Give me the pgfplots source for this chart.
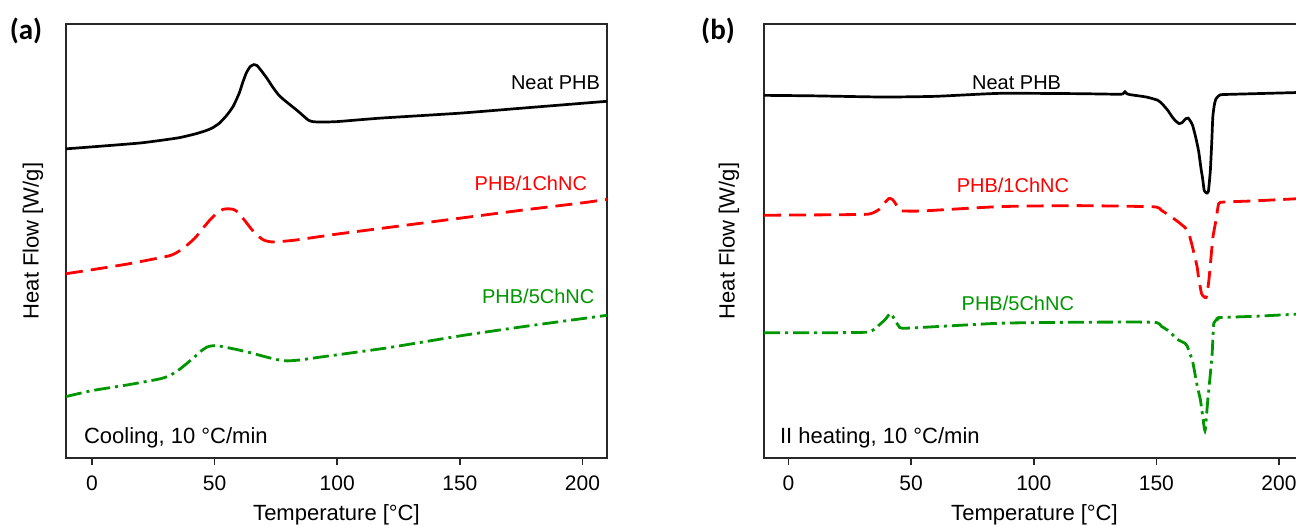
\documentclass[border=0pt]{standalone}
\usepackage{pgfplots}
\pgfplotsset{compat=1.18}
\usepackage{fontspec}
\setmainfont{Liberation Sans}
\newfontfamily\panelfont{Carlito}
\definecolor{dscred}{RGB}{255,0,0}
\definecolor{dscgreen}{RGB}{0,150,0}
\definecolor{frame}{RGB}{40,40,40}

\tikzset{curvelabel/.style={inner sep=0pt, font=\fontsize{10}{12}\selectfont}}
\pgfplotsset{
  dsc/.style={
    scale only axis,
    width=270.5pt, height=217pt,
    ymin=0, ymax=438,
    xtick={0,50,100,150,200},
    ytick=\empty,
    xtick pos=bottom,
    tick align=outside,
    major tick length=3.5pt,
    every tick/.style={frame, line width=0.8pt},
    axis line style={frame, line width=0.9pt},
    /pgf/number format/assume math mode=true,
    ticklabel style={font=\fontsize{10.5}{12}\selectfont},
    xticklabel style={yshift=-2pt},
    xlabel={Temperature [°C]},
    ylabel={Heat Flow [W/g]},
    label style={font=\fontsize{11}{13}\selectfont},
    xlabel style={at={(axis description cs:0.5,-0.131)}, anchor=center},
    clip=false,
  },
  neat/.style={black, line width=1.35pt, smooth, tension=0.3},
  one/.style={dscred, line width=1.4pt, dash pattern=on 8.5pt off 4pt, smooth, tension=0.3},
  five/.style={dscgreen, line width=1.4pt, dash pattern=on 8pt off 2.5pt on 1.5pt off 2.5pt, smooth, tension=0.3},
}

\begin{document}
\begin{tikzpicture}
\path (0,0) rectangle (648pt,262.5pt);

% (a) cooling
\begin{axis}[dsc, at={(33pt,33.5pt)}, anchor=south west,
  xmin=-10.6, xmax=210,
  ylabel style={at={(axis description cs:-0.061,0.5)}, anchor=center}]
\addplot[neat] coordinates {
(-10.6,312) (0,314) (20,318) (35,323) (42,327) (46,330) (49,333) (52,338)
(55,346) (57.6,355) (60,368) (61.6,380) (63,389) (64.5,395) (66,397)
(67.3,396) (69,391) (71.4,383) (73.5,375) (75.9,367) (78,362) (80,358)
(84,350) (88.2,341) (90,339.5) (93,339) (100,339.5) (117.6,343) (150,348)
(175,353) (200,358) (210,360)};
\addplot[one] coordinates {
(-10.6,186) (0,190) (15,196) (31.4,204) (35,208) (38.4,214) (42,222)
(45.3,232) (48,240) (51.3,248) (53.5,251) (55.5,251.5) (57.5,251) (59,249)
(60.5,245) (62.5,239) (65,231) (67.7,224) (70,220) (72,218.5) (74.6,218)
(83.2,220) (100,226) (125,234) (150,242) (175,250) (200,257.5) (210,261)};
\addplot[five] coordinates {
(-10.6,62) (0,68) (15,74) (28,80) (31.5,83) (34.9,88) (38,94) (41.8,102)
(44.5,108) (46.9,112) (48.5,113) (50.4,113.5) (53,112.5) (59,109.5)
(65,106) (69.4,103) (75,99.5) (79.6,98) (85,99) (93.6,102) (120,111)
(152,124) (180,134) (210,144)};
\node[curvelabel, anchor=base east] at (axis cs:207.3,372.3) {Neat PHB};
\node[curvelabel, anchor=base east, text=dscred] at (axis cs:202,269.7) {PHB/1ChNC};
\node[curvelabel, anchor=base east, text=dscgreen] at (axis cs:205,155.8) {PHB/5ChNC};
\node[inner sep=0pt, anchor=base west, font=\fontsize{11}{13}\selectfont] at (axis cs:-3.4,14.8) {Cooling, 10 °C/min};
\node[font=\panelfont\bfseries\fontsize{14.5}{16}\selectfont] at (axis description cs:-0.074,0.984) {(a)};
\end{axis}

% (b) second heating
\begin{axis}[dsc, at={(382pt,33.5pt)}, anchor=south west,
  xmin=-10, xmax=210.6,
  ylabel style={at={(axis description cs:-0.065,0.5)}, anchor=center}]
\addplot[neat] coordinates {
(-10,366) (10,365.5) (38.6,364.3) (60,365) (86,368) (117.5,367.7)
(136,367)};
\addplot[neat] coordinates {
(136,367) (136.8,368.5) (137.2,369.5) (137.8,368) (139,366.8) (145.9,364.3)
(150.6,361) (152.5,357) (154.6,351) (156.5,344) (157.7,340.6) (159.2,337.5)
(160.5,338.5) (162,342.5) (163,343) (164,339.5) (164.8,335.5) (166,324)
(167.2,310) (168.2,292) (168.8,283) (169.5,270) (170.4,267.5) (171.2,269)
(172,290) (172.6,320) (173,344) (173.6,356) (174.3,362.5) (176,366.5)
(180,367) (210,369)};
\addplot[one] coordinates {
(-10,245) (20,245.5) (32.3,246) (35,248) (37,251) (39,257) (41,262)
(42.3,261) (43.4,257.7) (44.5,253) (45.7,249.5) (54.4,249.3) (86,253.7)
(117.5,254.7) (148.9,253.5) (152,250) (155.4,244.5) (158.5,239)
(161.7,232.5) (163.3,226) (164.8,212) (166.6,193) (167.2,182) (168.4,166)
(169.3,163) (170.3,162) (171.2,175) (171.9,192) (173,222) (174.3,240)
(175.4,256.7) (177.4,258.3) (190,259.5) (210,262)};
\addplot[five] coordinates {
(-10,126.5) (20,126.5) (32.3,127) (35,130) (37,134.3) (39.5,140)
(41.5,146) (43,141) (45,133) (48,131) (86,136) (117.5,137) (148.9,137)
(152,133) (155.4,127.5) (158.4,120) (161.7,115.7) (162.5,113.3)
(164.8,97) (166.6,73.3) (168,58) (169.6,29) (170,30) (171.1,63)
(171.3,66.7) (172.7,104) (173.4,136) (175,140) (175.4,141.7) (190,143)
(210,145.5)};
\node[curvelabel, anchor=base] at (axis cs:93,372.3) {Neat PHB};
\node[curvelabel, anchor=base, text=dscred] at (axis cs:91.5,268.4) {PHB/1ChNC};
\node[curvelabel, anchor=base, text=dscgreen] at (axis cs:93.5,149) {PHB/5ChNC};
\node[inner sep=0pt, anchor=base west, font=\fontsize{11}{13}\selectfont] at (axis cs:-3.6,14.8) {II heating, 10 °C/min};
\node[font=\panelfont\bfseries\fontsize{14.5}{16}\selectfont] at (axis description cs:-0.085,0.984) {(b)};
\end{axis}

\pgfresetboundingbox
\path[use as bounding box] (0,0) rectangle (648pt,262.5pt);
\end{tikzpicture}
\end{document}
